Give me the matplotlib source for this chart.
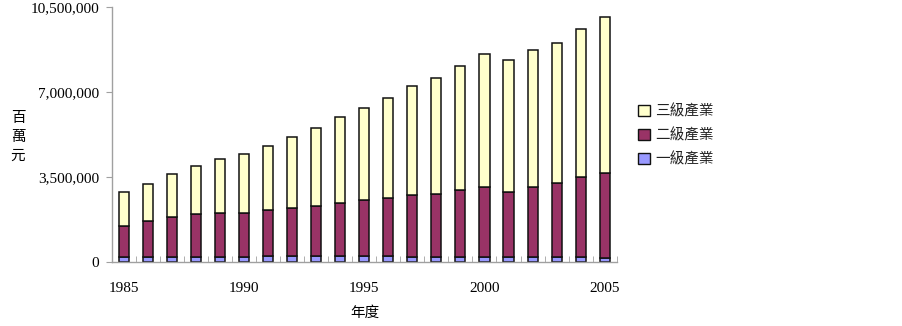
import matplotlib
matplotlib.use("Agg")
import matplotlib.pyplot as plt
from matplotlib.patches import Patch
from matplotlib.ticker import FuncFormatter, FixedLocator
import numpy as np

years = list(range(1985, 2006))
# values in millions of NT$ (百萬元)
primary = [230000, 230000, 230000, 230000, 230000, 220000, 272000, 272000, 272000, 272000,
           272000, 272000, 220000, 220000, 220000, 220000, 220000, 220000, 220000, 220000, 190000]
secondary = [1265000, 1483000, 1648000, 1746000, 1788000, 1798000, 1882000, 1964000, 2046000, 2157000,
             2281000, 2363000, 2539000, 2592000, 2757000, 2893000, 2675000, 2893000, 3033000, 3292000, 3487000]
tertiary = [1412000, 1499000, 1770000, 1977000, 2236000, 2454000, 2635000, 2936000, 3224000, 3542000,
            3813000, 4130000, 4488000, 4777000, 5106000, 5452000, 5447000, 5629000, 5789000, 6082000, 6424000]
series_names = ["一級產業", "二級產業", "三級產業"]
colors = ["#9999FF", "#993366", "#FFFFCC"]
yticks = [0, 3500000, 7000000, 10500000]
xtick_years = [1985, 1990, 1995, 2000, 2005]

serif = ["Liberation Serif", "DejaVu Serif"]
cjk = ["Noto Sans CJK TC", "DejaVu Sans"]

fig = plt.figure(figsize=(9.03, 3.26), dpi=100)
ax = fig.add_axes([0.1237, 0.1954, 0.5593, 0.7822])

x = np.arange(len(years))
p = np.array(primary)
s = np.array(secondary)
t = np.array(tertiary)
w = 0.42
ax.bar(x, p, w, color=colors[0], edgecolor="#111111", linewidth=1.1)
ax.bar(x, s, w, bottom=p, color=colors[1], edgecolor="#111111", linewidth=1.1)
ax.bar(x, t, w, bottom=p + s, color=colors[2], edgecolor="#111111", linewidth=1.1)

ax.set_xlim(-0.5, len(years) - 0.5)
ax.set_ylim(0, 10500000)

for sp in ["top", "right"]:
    ax.spines[sp].set_visible(False)
for sp in ["left", "bottom"]:
    ax.spines[sp].set_color("#A0A0A0")
    ax.spines[sp].set_linewidth(1.0)

ax.set_yticks(yticks)
ax.yaxis.set_major_formatter(FuncFormatter(lambda v, pos: f"{int(v):,}"))
ax.tick_params(axis="y", direction="out", length=4, color="#A0A0A0", labelsize=11, pad=5)

ax.set_xticks([years.index(yv) for yv in xtick_years])
ax.set_xticklabels([str(yv) for yv in xtick_years])
ax.tick_params(axis="x", which="major", length=0, labelsize=11, pad=14)
ax.xaxis.set_minor_locator(FixedLocator(np.arange(len(years) + 1) - 0.5))
ax.tick_params(axis="x", which="minor", direction="in", length=4, color="#A0A0A0")

for lab in ax.get_xticklabels() + ax.get_yticklabels():
    lab.set_family(serif)

fig.text(0.02, 0.58, "百\n萬\n元", family=cjk, fontsize=10.5, ha="center", va="center",
         linespacing=1.45)
fig.text(0.404, 0.04, "年度", family=cjk, fontsize=10.5, ha="center", va="center")

handles = [Patch(facecolor=colors[i], edgecolor="#111111", linewidth=1.0) for i in [2, 1, 0]]
labels = [series_names[i] for i in [2, 1, 0]]
leg = fig.legend(handles, labels, loc="center left", bbox_to_anchor=(0.692, 0.585),
                 frameon=False, prop={"family": cjk, "size": 10.5},
                 handlelength=0.8, handleheight=0.8, handletextpad=0.4, labelspacing=0.68)
for txt in leg.get_texts():
    txt.set_color("#222222")

fig.savefig("out.png", dpi=100)
